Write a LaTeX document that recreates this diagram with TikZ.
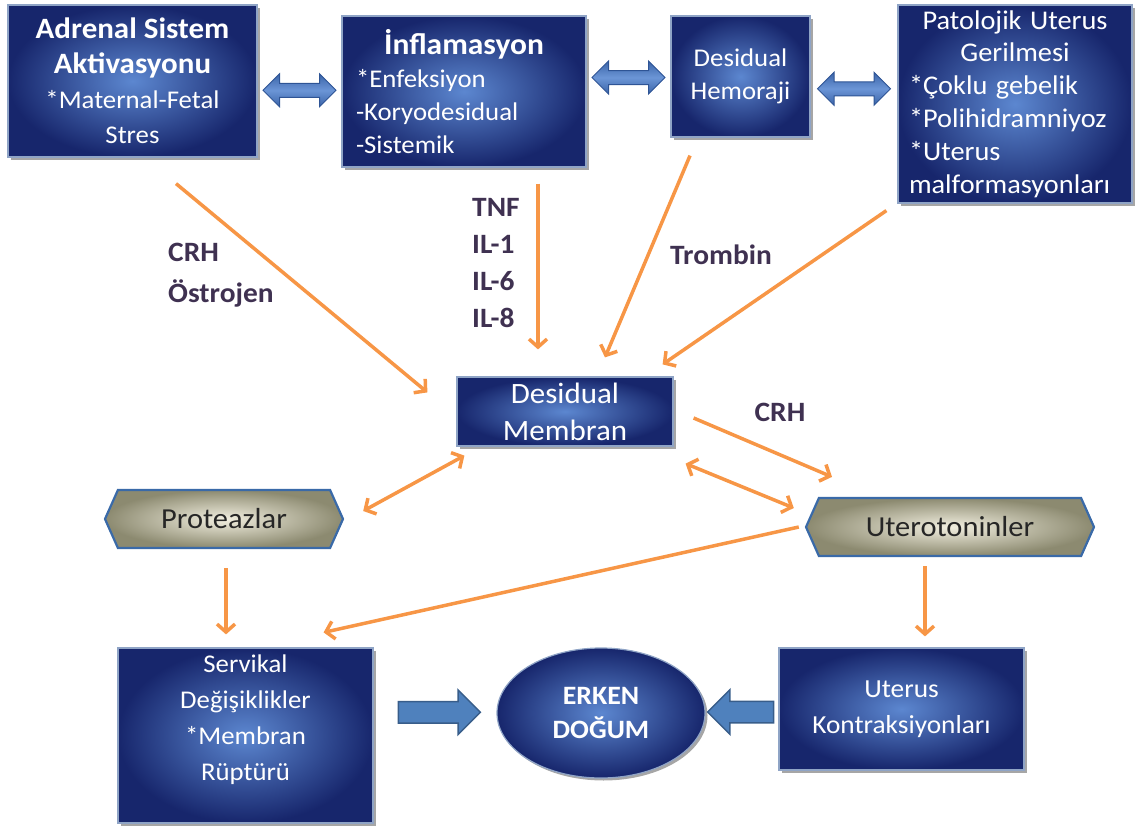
\documentclass[tikz,border=0pt]{standalone}
\usepackage{fontspec}
\setmainfont{Carlito}[FakeStretch=1.05]
\usetikzlibrary{shapes.symbols,shapes.arrows,shapes.geometric,shadows,arrows.meta,calc}
\definecolor{boxin}{HTML}{5C87D0}
\definecolor{boxout}{HTML}{17266C}
\definecolor{boxline}{HTML}{8FA4C6}
\definecolor{oarr}{HTML}{F79646}
\definecolor{lbl}{HTML}{3F3151}
\definecolor{hexin}{HTML}{F2EFE0}
\definecolor{hexout}{HTML}{8C8A70}
\definecolor{hexline}{HTML}{3A6AA8}
\definecolor{barrd}{HTML}{3B64A8}
\definecolor{barrl}{HTML}{6B95D6}
\definecolor{barrline}{HTML}{2E5495}
\definecolor{sarr}{HTML}{4F81BD}
\definecolor{sarrline}{HTML}{385D8A}
\newcommand\myfs[2]{\fontsize{#1}{#2}\selectfont}
\begin{document}
\begin{tikzpicture}[x=1pt,y=-1pt,
  bluebox/.style={rectangle, draw=boxline, line width=1.2pt, inner color=boxin, outer color=boxout,
    text=white, align=center, inner sep=0pt,
    drop shadow={shadow xshift=2.5pt, shadow yshift=-2.5pt, opacity=.35, fill=black}},
  boxtext/.style={text=white, align=center, inner sep=0pt},
  hexbox/.style={signal, signal to=east and west, signal pointer angle=132, draw=hexline, line width=2.2pt,
    inner color=hexin, outer color=hexout, text=black!85, inner sep=0pt, font=\myfs{29}{32}},
  oline/.style={draw=oarr, line width=3.5pt},
  otip/.style={-{Straight Barb[length=8pt,width=18pt]}},
  otips/.style={{Straight Barb[length=8pt,width=18pt]}-{Straight Barb[length=8pt,width=18pt]}},
  bigarr/.style={draw=barrline, line width=1pt, top color=barrd, bottom color=barrd, middle color=barrl, inner sep=6.5pt},
  smarr/.style={draw=sarrline, line width=1.5pt, fill=sarr, inner sep=10pt, single arrow head extend=11.5pt},
  lab/.style={text=lbl, font=\bfseries\myfs{28}{41}, align=left, inner sep=0pt}
]
\useasboundingbox (0,0) rectangle (1136,827);

% top boxes
\node[bluebox, minimum width=249pt, minimum height=152pt, font=\myfs{25.5}{35}] (adr) at (132.5,81)
  {\textbf{\myfs{29.5}{35}Adrenal Sistem}\\ \textbf{\myfs{29.5}{35}Aktivasyonu}\\ *Maternal-Fetal\\ Stres};
\node[bluebox, minimum width=244pt, minimum height=151pt, text width=216pt, align=left, font=\myfs{25.5}{33}] (inf) at (464,91.5)
  {\hfill\textbf{\myfs{30}{36}İnflamasyon}\hfill\null\\ {*}Enfeksiyon\\ -Koryodesidual\\ -Sistemik};
\node[bluebox, minimum width=139pt, minimum height=121pt, font=\myfs{25.5}{33}] (hem) at (740.5,76.5)
  {Desidual\\ Hemoraji};
\node[bluebox, minimum width=234pt, minimum height=198pt, text width=212pt, align=left, font=\myfs{25.5}{32.8}] (pat) at (1015,104)
  {\hfill\myfs{27}{32.8}Patolojik Uterus\hfill\null\\ \hfill\myfs{27}{32.8}Gerilmesi\hfill\null\\ {*}Çoklu gebelik\\ {*}Polihidramniyoz\\ {*}Uterus\\ malformasyonları};

% middle
\node[bluebox, minimum width=216pt, minimum height=69pt, font=\myfs{29.5}{37}] (mem) at (565,411.5)
  {Desidual\\ Membran};
\node[hexbox, minimum width=238pt, minimum height=58pt] (pro) at (224,519) {Proteazlar};
\node[hexbox, minimum width=288pt, minimum height=58pt] (ute) at (950,527) {Uterotoninler};

% bottom
\node[bluebox, minimum width=255pt, minimum height=175pt] (ser) at (245.5,735.5) {};
\node[boxtext, font=\myfs{25.5}{36}] (sertxt) at ([yshift=16pt]ser.center)
  {Servikal\\ Değişiklikler\\ *Membran\\ Rüptürü};
\node[bluebox, ellipse, minimum width=208pt, minimum height=130pt, font=\bfseries\myfs{26.5}{34}] (erk) at (601,713)
  {ERKEN\\ DOĞUM};
\node[bluebox, minimum width=245pt, minimum height=122pt, font=\myfs{26}{36}] (uk) at (901.5,709)
  {Uterus\\ Kontraksiyonları};

% thick blue arrows
\node[bigarr, double arrow, double arrow head extend=9.5pt, minimum height=73pt] (ba1) at ($(adr.east)!0.5!(inf.west)+(0,4)$) {};
\node[bigarr, double arrow, double arrow head extend=9.5pt, minimum height=73pt] (ba2) at ($(inf.east)!0.5!(hem.west)+(0,-6.5)$) {};
\node[bigarr, double arrow, double arrow head extend=9.5pt, minimum height=73pt] (ba3) at ($(hem.east)!0.5!(pat.west)+(0,-1.5)$) {};
\node[smarr, single arrow, minimum height=82pt] (ba4) at ($(ser.east)!0.5!(erk.west)+(-1,-12)$) {};
\node[smarr, single arrow, minimum height=66pt, shape border rotate=180] (ba5) at ($(erk.east)!0.5!(uk.west)+(4,1)$) {};

% orange arrows
\draw[oline, otip] ([xshift=43.5pt,yshift=-26pt]adr.south) -- ([xshift=-29pt,yshift=-16pt]mem.north west);
\draw[oline, otip] ([xshift=74pt,yshift=-16pt]inf.south) -- ([xshift=-27pt,yshift=27pt]mem.north);
\draw[oline, otip] ([xshift=-50.5pt,yshift=-18pt]hem.south) -- ([xshift=40pt,yshift=19pt]mem.north);
\draw[oline, otip] ([xshift=-11pt,yshift=-7pt]pat.south west) -- ([xshift=-11pt,yshift=12pt]mem.north east);
\draw[oline, otips] ([xshift=8pt,yshift=-9pt]mem.south west) -- ([xshift=19pt,yshift=8pt]pro.east);
\draw[oline, otips] ([xshift=12pt,yshift=-17pt]mem.south east) -- ([xshift=-11pt,yshift=19pt]ute.west);
\draw[oline, otip] ([xshift=20pt,yshift=-6.5pt]mem.east) -- ([xshift=-118pt,yshift=20pt]ute.north);
\draw[oline, otip] ([xshift=2pt,yshift=-19pt]pro.south) -- ([xshift=-19.5pt,yshift=13pt]ser.north);
\draw[oline, otip] ([xshift=-6pt]ute.west) -- ([xshift=-50pt,yshift=15pt]ser.north east);
\draw[oline, otip] ([xshift=-25pt,yshift=-9pt]ute.south) -- ([xshift=23.5pt,yshift=11pt]uk.north);

% labels
\node[lab, anchor=north west] (l1) at (168,243) {CRH\\ Östrojen};
\node[lab, anchor=north west, font=\bfseries\myfs{28}{37}] (l2) at (472,198) {TNF\\ IL-1\\ IL-6\\ IL-8};
\node[lab] (l3) at (721,255) {Trombin};
\node[lab] (l4) at (780,412) {CRH};
\end{tikzpicture}
\end{document}
